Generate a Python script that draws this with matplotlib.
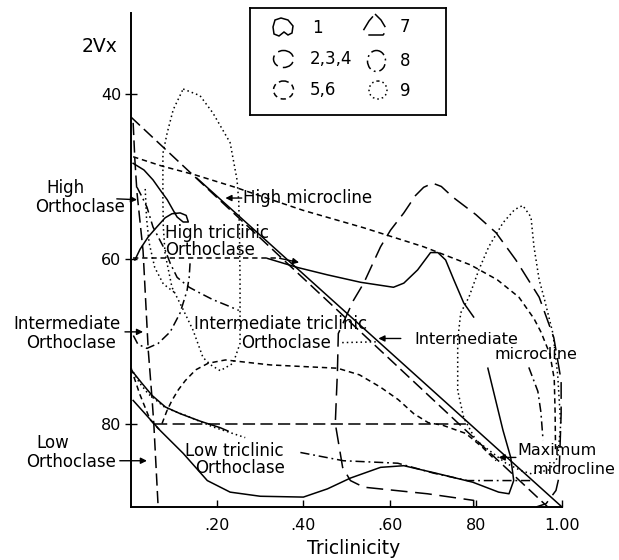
import matplotlib.pyplot as plt
from matplotlib.patches import Ellipse, Polygon

plt.rcParams['font.family'] = ['DejaVu Sans']

# field boundaries as (triclinicity, 2Vx) pairs, grouped by sample set

# group 1 (solid)
g1_diagonal = [(0.153, 50.2), (1.0, 90.0)]
g1_high = [(0.005, 48.4), (0.03, 49.2), (0.051, 50.4), (0.07, 51.8), (0.084, 52.8),
           (0.097, 54.0), (0.107, 54.9), (0.121, 55.5), (0.133, 55.5), (0.128, 54.7),
           (0.114, 54.4), (0.095, 54.5), (0.079, 55.0), (0.060, 56.1), (0.040, 57.3),
           (0.021, 58.8), (0.009, 60.1)]
g1_middle = [(0.316, 59.9), (0.386, 61.0), (0.456, 61.9), (0.533, 62.8), (0.609, 63.4),
             (0.633, 62.9), (0.665, 61.3), (0.695, 59.2), (0.712, 59.2), (0.730, 60.1),
             (0.749, 62.5), (0.772, 65.3), (0.795, 67.0)]
g1_lower = [(0.828, 73.2), (0.863, 80.7), (0.881, 84.0), (0.888, 86.8), (0.877, 88.4),
            (0.853, 88.2), (0.793, 87.0), (0.707, 85.9), (0.633, 85.0), (0.579, 85.2),
            (0.509, 86.5), (0.456, 87.8), (0.400, 88.8), (0.300, 88.7), (0.230, 88.2),
            (0.177, 86.8), (0.121, 83.5), (0.067, 80.7), (0.005, 77.1)]
g1_low_left = [(0.002, 73.5), (0.025, 75.0), (0.049, 76.5), (0.08, 77.9), (0.114, 78.7),
               (0.16, 79.6), (0.207, 80.4), (0.225, 80.8)]

# groups 2,3,4 (long dash)
g2_diagonal = [(0.0, 42.8), (0.967, 90.0)]
g2_axis = [(0.005, 43.5), (0.009, 48.0), (0.014, 52.0), (0.021, 55.5), (0.028, 59.0),
           (0.033, 64.0), (0.040, 71.0), (0.049, 77.0), (0.053, 80.0), (0.057, 84.0),
           (0.063, 90.0)]
g2_base = [(0.055, 80.0), (0.787, 80.0)]

# groups 5,6 (short dash)
g5_upper = [(0.005, 47.6), (0.07, 48.7), (0.149, 49.8), (0.242, 51.3), (0.32, 52.7),
            (0.40, 54.1), (0.54, 56.2), (0.679, 58.5), (0.788, 60.7), (0.85, 62.5),
            (0.9, 64.6), (0.935, 67.2), (0.951, 68.8), (0.972, 71.5), (0.982, 74.5),
            (0.984, 78.5), (0.985, 83.0)]
g5_sixty = [(0.005, 59.9), (0.345, 59.9)]
g5_arch = [(0.072, 79.9), (0.083, 78.4), (0.095, 77.1), (0.11, 75.8), (0.126, 74.7),
           (0.15, 73.4), (0.179, 72.6), (0.219, 72.2), (0.323, 72.8), (0.40, 73.0),
           (0.479, 73.2), (0.53, 74.0), (0.579, 75.5), (0.62, 77.0), (0.656, 78.7),
           (0.69, 79.8), (0.723, 80.1), (0.777, 81.1), (0.816, 82.8), (0.847, 84.4)]
g5_left = [(0.0, 73.2), (0.02, 76.3), (0.044, 79.4), (0.065, 80.6)]

# group 7 (long dash, wide gaps)
g7_loop = [(0.795, 90.0), (0.795, 89.2), (0.688, 88.4), (0.540, 87.6), (0.509, 86.8),
           (0.491, 85.2), (0.474, 79.9), (0.479, 73.5), (0.481, 69.0), (0.516, 65.0),
           (0.540, 62.9), (0.579, 58.5), (0.602, 56.5), (0.633, 54.4), (0.660, 52.3),
           (0.679, 51.3), (0.70, 50.8), (0.72, 51.2), (0.747, 52.5), (0.80, 54.6),
           (0.847, 56.8), (0.893, 60.1), (0.947, 64.6), (0.981, 69.5), (0.998, 74.7),
           (0.998, 78.7), (0.993, 86.4), (0.986, 88.0), (0.963, 89.6), (0.94, 90.0)]

# group 8 (dash-dot)
g8_upper = [(0.014, 51.3), (0.026, 52.5), (0.037, 53.7), (0.051, 56.1), (0.067, 57.7),
            (0.080, 59.0), (0.091, 60.5), (0.107, 62.2), (0.135, 63.4), (0.16, 64.1),
            (0.19, 64.9), (0.223, 65.6), (0.25, 66.2)]
g8_hook = [(0.137, 60.5), (0.135, 62.2), (0.13, 63.8), (0.114, 66.5), (0.091, 68.8),
           (0.063, 70.2), (0.037, 70.8), (0.016, 70.3), (0.005, 69.2)]
g8_low = [(0.393, 83.4), (0.493, 84.4), (0.619, 84.7), (0.702, 85.9), (0.781, 86.8),
          (0.858, 86.8), (0.928, 86.8)]
g8_right = [(0.923, 73.1), (0.944, 76.0), (0.951, 78.5), (0.956, 81.9)]

# group 9 (dotted)
g9_tall = [(0.121, 39.4), (0.16, 40.2), (0.19, 42.3), (0.23, 45.9), (0.246, 50.4),
           (0.25, 53.0), (0.252, 58.0), (0.253, 62.5), (0.253, 66.0), (0.253, 70.2),
           (0.237, 72.6), (0.207, 73.5), (0.185, 72.8), (0.167, 71.9), (0.144, 68.6),
           (0.12, 66.0), (0.095, 63.4), (0.079, 59.3), (0.075, 56.1), (0.074, 52.8),
           (0.074, 47.2), (0.084, 44.7), (0.098, 41.9), (0.121, 39.4)]
g9_right = [(0.758, 75.9), (0.758, 69.8), (0.765, 66.5), (0.784, 64.6), (0.807, 61.3),
            (0.830, 58.5), (0.863, 55.6), (0.89, 54.0), (0.909, 53.5), (0.928, 54.9),
            (0.935, 58.5), (0.947, 62.5), (0.958, 64.6), (0.979, 69.0), (0.99, 74.0),
            (0.997, 80.0), (0.99, 84.0), (0.97, 85.5), (0.93, 86.0), (0.905, 85.6),
            (0.87, 84.7), (0.84, 83.5), (0.80, 81.9), (0.772, 79.2), (0.758, 75.9)]
g9_inner = [(0.033, 51.5), (0.036, 55.0), (0.042, 58.0), (0.055, 61.0), (0.075, 63.0),
            (0.10, 64.0)]
g9_low_left = [(0.0, 73.2), (0.02, 75.0), (0.04, 76.3), (0.08, 78.0), (0.126, 78.9),
               (0.19, 80.3), (0.265, 81.6)]
g9_leader = [(0.49, 70.1), (0.574, 70.0)]

LW = 1.1
STYLES = {
    "1": "-",
    "2,3,4": (0, (8, 3.5)),
    "5,6": (0, (3.5, 2.5)),
    "7": (0, (11, 5)),
    "8": (0, (6, 2.5, 1.2, 2.5)),
    "9": (0, (1, 2)),
}

curves = [
    ("1", g1_diagonal), ("1", g1_high), ("1", g1_middle), ("1", g1_lower), ("1", g1_low_left),
    ("2,3,4", g2_diagonal), ("2,3,4", g2_axis), ("2,3,4", g2_base),
    ("5,6", g5_upper), ("5,6", g5_sixty), ("5,6", g5_arch), ("5,6", g5_left),
    ("7", g7_loop),
    ("8", g8_upper), ("8", g8_hook), ("8", g8_low), ("8", g8_right),
    ("9", g9_tall), ("9", g9_right), ("9", g9_inner), ("9", g9_low_left), ("9", g9_leader),
]

fig = plt.figure(figsize=(6.19, 5.6), dpi=100)
ax = fig.add_axes([131 / 619, 53 / 560, 431 / 619, 494 / 560])

for group, pts in curves:
    xs, ys = zip(*pts)
    ax.plot(xs, ys, color="black", lw=LW, ls=STYLES[group], clip_on=False)

ax.set_xlim(0, 1.0)
ax.set_ylim(90, 30.2)
for side in ("top", "right"):
    ax.spines[side].set_visible(False)
for side in ("left", "bottom"):
    ax.spines[side].set_linewidth(1.4)

ax.set_xticks([0.2, 0.4, 0.6, 0.8, 1.0])
ax.set_xticklabels([".20", ".40", ".60", "80", "1.00"])
ax.set_yticks([40, 60, 80])
ax.tick_params(axis="x", direction="in", length=5, width=1, pad=8, labelsize=11.5)
ax.tick_params(axis="y", direction="inout", length=8, width=1, pad=3, labelsize=11.5)

# field names
fs = 12
labels = [
    (-0.153, 51.4, "High", "center", fs), (-0.119, 53.7, "Orthoclase", "center", fs),
    (0.079, 56.8, "High triclinic", "left", fs), (0.079, 58.9, "Orthoclase", "left", fs),
    (0.26, 52.6, "High microcline", "left", fs),
    (-0.149, 67.8, "Intermediate", "center", fs), (-0.14, 70.2, "Orthoclase", "center", fs),
    (0.347, 67.8, "Intermediate triclinic", "center", fs),
    (0.36, 70.2, "Orthoclase", "center", fs),
    (0.779, 69.7, "Intermediate", "center", 11.5), (0.94, 71.5, "microcline", "center", 11.5),
    (0.988, 83.2, "Maximum", "center", 11.5), (1.028, 85.4, "microcline", "center", 11.5),
    (-0.181, 82.3, "Low", "center", fs), (-0.14, 84.6, "Orthoclase", "center", fs),
    (0.24, 83.2, "Low triclinic", "center", fs), (0.253, 85.3, "Orthoclase", "center", fs),
]
for x, y, s, ha, size in labels:
    ax.text(x, y, s, ha=ha, va="center", fontsize=size, clip_on=False)

arrows = [
    ((-0.033, 52.7), (0.014, 52.8)),
    ((-0.014, 68.8), (0.028, 68.8)),
    ((-0.026, 84.4), (0.037, 84.4)),
    ((0.257, 52.6), (0.219, 52.6)),
    ((0.626, 69.6), (0.574, 69.6)),
    ((0.893, 84.0), (0.853, 84.0)),
    ((0.345, 59.9), (0.39, 60.4)),
]
for start, tip in arrows:
    ax.annotate("", xy=tip, xytext=start, annotation_clip=False,
                arrowprops=dict(arrowstyle="-|>", color="black", lw=1.0,
                                mutation_scale=9, shrinkA=0, shrinkB=0))

fig.text(100 / 619, 1 - 47 / 560, "2Vx", ha="center", va="center", fontsize=13.5)
fig.text(354 / 619, 1 - 549 / 560, "Triclinicity", ha="center", va="center", fontsize=13.5)

# key box
lax = fig.add_axes([250 / 619, 1 - 115 / 560, 196 / 619, 107 / 560])
lax.set_xlim(0, 196)
lax.set_ylim(107, 0)
lax.set_xticks([])
lax.set_yticks([])
for sp in lax.spines.values():
    sp.set_linewidth(1.3)

icon_kw = dict(fill=False, ec="black", lw=LW)
lax.add_patch(Polygon([(25, 12), (31, 10), (38, 12), (43, 18), (42, 25), (38, 27),
                       (34, 24), (29, 28), (24, 26), (23, 19)],
                      closed=True, ls=STYLES["1"], **icon_kw))
lax.add_patch(Ellipse((33.5, 51), 20, 17, ls=STYLES["2,3,4"], **icon_kw))
lax.add_patch(Ellipse((33.5, 82), 20, 18, ls=STYLES["5,6"], **icon_kw))
lax.add_patch(Polygon([(125, 6), (131, 12), (137, 22), (133, 27), (118, 27),
                       (113, 23), (119, 13)],
                      closed=True, ls=STYLES["7"], **icon_kw))
lax.add_patch(Ellipse((126.5, 53), 18, 21, ls=STYLES["8"], **icon_kw))
lax.add_patch(Ellipse((128, 82), 18, 18, ls=STYLES["9"], **icon_kw))

for x, y, s in [(62, 20, "1"), (60, 51, "2,3,4"), (60, 82, "5,6"),
                (150, 19, "7"), (150, 53, "8"), (150, 83, "9")]:
    lax.text(x, y, s, ha="left", va="center", fontsize=12)

fig.savefig("out.png", dpi=100)
